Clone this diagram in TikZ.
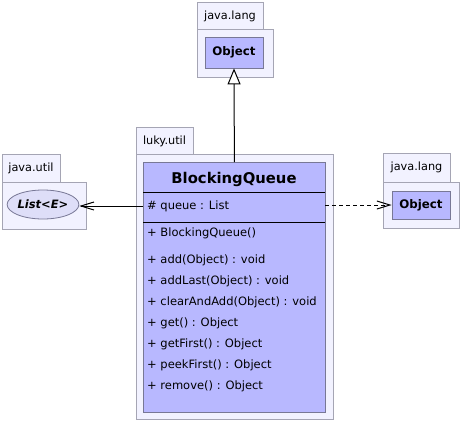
\documentclass[tikz,border=0pt]{standalone}
\usepackage{fontspec}
\setmainfont{DejaVu Sans}
\usetikzlibrary{arrows.meta,shapes.geometric}
\definecolor{pkgfill}{RGB}{242,242,255}
\definecolor{pkgline}{RGB}{165,165,180}
\definecolor{clsfill}{RGB}{184,184,255}
\definecolor{clsline}{RGB}{120,120,150}
\definecolor{ellfill}{RGB}{222,222,248}
\tikzset{
  pkg/.style={draw=pkgline,fill=pkgfill,line width=0.8pt},
  pkglabel/.style={font=\fontsize{11.3}{13}\selectfont,anchor=center,inner sep=0},
  clsbox/.style={draw=clsline,fill=clsfill,line width=0.8pt,inner sep=0,anchor=north west},
  smallcls/.style={draw=clsline,fill=clsfill,line width=0.8pt,inner sep=0,font=\bfseries\fontsize{11.8}{13}\selectfont},
  member/.style={font=\fontsize{11.5}{13}\selectfont,anchor=west,inner sep=0},
  sep/.style={draw=black,line width=0.9pt},
  conn/.style={draw=black,line width=1pt},
  barb/.style={-{Straight Barb[length=13pt,width=8pt,line join=miter]}},
}
\begin{document}
\begin{tikzpicture}[x=1pt,y=-1pt]
\useasboundingbox (0,0) rectangle (460,421);
% top java.lang package
\draw[pkg] (197,2) rectangle (263,29);
\draw[pkg] (197,29) rectangle (273,77);
\node[pkglabel] (pkgA) at (230,16) {java.lang};
\node[smallcls,minimum width=58pt,minimum height=31pt] (objtop) at (234,52.5) {Object};
% left java.util package
\draw[pkg] (2,154) rectangle (60,182);
\draw[pkg] (2,182) rectangle (86,229);
\node[pkglabel] (pkgB) at (31,168) {java.util};
\node[ellipse,draw=clsline,fill=ellfill,line width=0.8pt,minimum width=66pt,minimum height=29pt,inner sep=0,
  font=\bfseries\itshape\fontsize{11.5}{13}\selectfont] (list) at (43,204.5) {List<E>};
% main luky.util package
\draw[pkg] (136,127) rectangle (193,154);
\draw[pkg] (136,154) rectangle (333,419);
\node[pkglabel] (pkgC) at (164.5,141) {luky.util};
\node[clsbox,minimum width=182pt,minimum height=250pt] (bq) at (143,162) {};
\node[font=\bfseries\fontsize{14.8}{17}\selectfont,inner sep=0] (bqname) at (234,179) {BlockingQueue};
\draw[sep] (143,192) -- (325,192);
\node[member] (attr) at (147,206) {\# queue : List};
\draw[sep] (143,222) -- (325,222);
\node[member] (m0) at (147,233) {+ BlockingQueue()};
\node[member] (m1) at (147,260) {+ add(Object) : void};
\node[member] (m2) at (147,281) {+ addLast(Object) : void};
\node[member] (m3) at (147,302) {+ clearAndAdd(Object) : void};
\node[member] (m4) at (147,323) {+ get() : Object};
\node[member] (m5) at (147,344) {+ getFirst() : Object};
\node[member] (m6) at (147,365) {+ peekFirst() : Object};
\node[member] (m7) at (147,386) {+ remove() : Object};
% right java.lang package
\draw[pkg] (383,153) rectangle (450,182);
\draw[pkg] (383,182) rectangle (459,228);
\node[pkglabel] (pkgD) at (416.5,167) {java.lang};
\node[smallcls,minimum width=58pt,minimum height=28pt] (objright) at (421,205) {Object};
% connectors
\draw[conn,-{Triangle[open,length=16pt,width=13pt,fill=white]}] (bq.north) -- (objtop.south);
\coordinate (assocL) at (143,206);
\draw[conn,barb] (assocL) -- (list.east |- assocL);
\coordinate (depL) at (325,205);
\draw[conn,dashed,dash pattern=on 4pt off 3pt,barb] (depL) -- (objright.west);
\end{tikzpicture}
\end{document}
